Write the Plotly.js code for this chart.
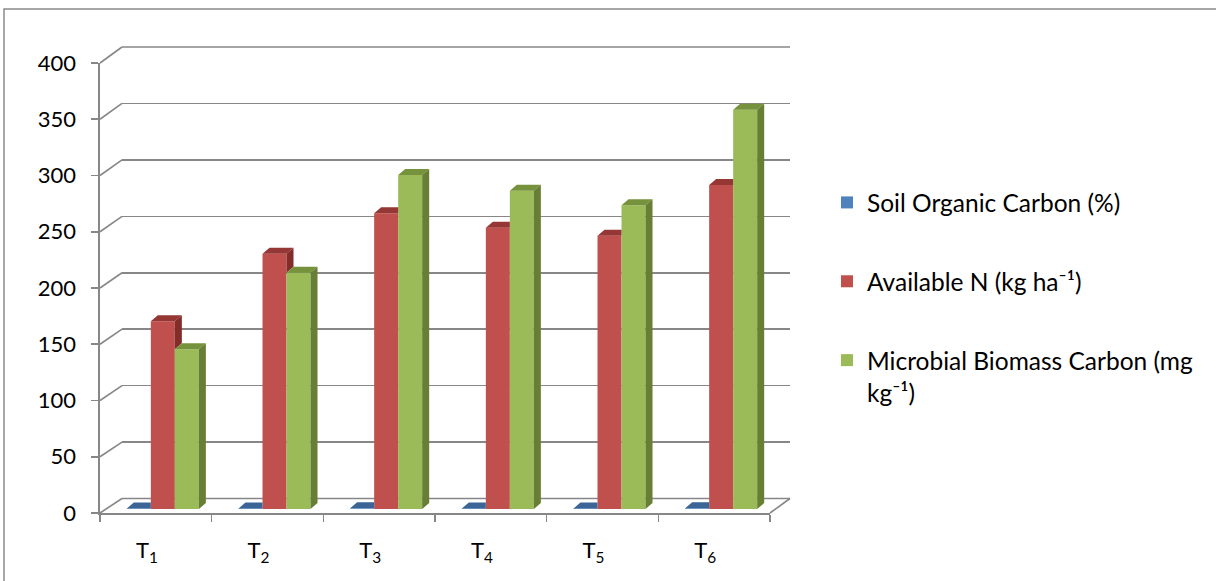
<!DOCTYPE html>
<html>
<head>
<meta charset="utf-8">
<script src="https://cdn.plot.ly/plotly-3.0.1.min.js"></script>
<style>html,body{margin:0;padding:0;background:#fff;}#chart{width:1216px;height:581px;}</style>
</head>
<body>
<div id="chart"></div>
<script>
// ---- data ----
const categories = ['T1', 'T2', 'T3', 'T4', 'T5', 'T6'];
const tickLabels = ['T<sub>1</sub>', 'T<sub>2</sub>', 'T<sub>3</sub>', 'T<sub>4</sub>', 'T<sub>5</sub>', 'T<sub>6</sub>'];
const soilOrganicCarbon = [0.45, 0.52, 0.58, 0.55, 0.53, 0.62];
const availableN = [167, 227, 263, 250, 243, 288];
const microbialBiomassC = [142, 210, 297, 283, 270, 355];
const seriesNames = ['Soil Organic Carbon (%)', 'Available N (kg ha\u207B\u00B9)', 'Microbial Biomass Carbon (mg<br>kg\u207B\u00B9)'];
const yTicks = [0, 50, 100, 150, 200, 250, 300, 350, 400];

// ---- geometry (pixels) ----
const W = 1216, H = 581;
const px = x => x / W;            // pixel -> paper x
const py = y => 1 - y / H;        // pixel -> paper y
const FRONT = {x0: 100, x1: 770, y0: 513, y1: 63};
const BACK  = {x0: 122, x1: 790, y0: 498.5, y1: 47};
const BARP  = {x0: 107, x1: 777, y0: 509, y1: 59};
const yMax = 400;

const colors = {
  blue: '#4F81BD', blueTop: '#3A6596',
  red: '#C0504D', redTop: '#953735', redSide: '#832D2B',
  green: '#9BBB59', greenTop: '#76923C', greenSide: '#667F35'
};

const idx = categories.map((c, i) => i);
const w = 0.215;                                    // bar width (category units)
const pxPerCat = (BARP.x1 - BARP.x0) / categories.length;
const pxPerUnit = (BARP.y0 - BARP.y1) / yMax;
const dX = 7 / pxPerCat;                            // depth offset in x units
const dY = 6 / pxPerUnit;                           // depth offset in y units
const labelShift = -0.08;                           // category label offset (category units)

function poly(list) {
  const xs = [], ys = [];
  list.forEach(p => {
    p.forEach(pt => { xs.push(pt[0]); ys.push(pt[1]); });
    xs.push(p[0][0]); ys.push(p[0][1]);
    xs.push(null); ys.push(null);
  });
  return {xs, ys};
}

const blueTopP = [], redTopP = [], redSideP = [], greenTopP = [], greenSideP = [];
idx.forEach(i => {
  const b = soilOrganicCarbon[i], r = availableN[i], g = microbialBiomassC[i];
  let L = i - 1.5 * w, R = i - 0.5 * w;
  blueTopP.push([[L, b], [R, b], [R, b + dY], [L + dX, b + dY]]);
  L = i - 0.5 * w; R = i + 0.5 * w;
  if (r > g) {
    redTopP.push([[L, r], [R, r], [R + dX, r + dY], [L + dX, r + dY]]);
    redSideP.push([[R, g], [R, r], [R + dX, r + dY], [R + dX, g + dY]]);
  } else {
    redTopP.push([[L, r], [R, r], [R, r + dY], [L + dX, r + dY]]);
  }
  L = i + 0.5 * w; R = i + 1.5 * w;
  greenTopP.push([[L, g], [R, g], [R + dX, g + dY], [L + dX, g + dY]]);
  greenSideP.push([[R, 0], [R, g], [R + dX, g + dY], [R + dX, dY]]);
});

function faceTrace(list, color) {
  const p = poly(list);
  return {type: 'scatter', mode: 'lines', x: p.xs, y: p.ys, xaxis: 'x3', yaxis: 'y3',
    fill: 'toself', fillcolor: color, line: {width: 0, color: color},
    showlegend: false, hoverinfo: 'skip'};
}

const traces = [
  {type: 'scatter', mode: 'markers', x: [0.5], y: [0], marker: {opacity: 0}, xaxis: 'x', yaxis: 'y', showlegend: false, hoverinfo: 'skip'},
  {type: 'scatter', mode: 'markers', x: [0], y: [0], marker: {opacity: 0}, xaxis: 'x2', yaxis: 'y2', showlegend: false, hoverinfo: 'skip'},
  {type: 'bar', name: seriesNames[0], x: idx, y: soilOrganicCarbon, width: w, offset: -1.5 * w,
    marker: {color: colors.blue}, xaxis: 'x3', yaxis: 'y3', legendgroup: 'a', hoverinfo: 'skip'},
  {type: 'bar', name: seriesNames[1], x: idx, y: availableN, width: w, offset: -0.5 * w,
    marker: {color: colors.red}, xaxis: 'x3', yaxis: 'y3', legendgroup: 'b', hoverinfo: 'skip'},
  {type: 'bar', name: seriesNames[2], x: idx, y: microbialBiomassC, width: w, offset: 0.5 * w,
    marker: {color: colors.green}, xaxis: 'x3', yaxis: 'y3', legendgroup: 'c', hoverinfo: 'skip'},
  faceTrace(blueTopP, colors.blueTop),
  faceTrace(redSideP, colors.redSide),
  faceTrace(redTopP, colors.redTop),
  faceTrace(greenTopP, colors.greenTop),
  faceTrace(greenSideP, colors.greenSide)
];

const gridCol = '#878787';
const shapes = [];
// outer chart border
shapes.push({type: 'rect', xref: 'paper', yref: 'paper', x0: px(4), x1: px(1230), y0: py(600), y1: py(9),
  line: {color: '#8a8a8a', width: 1.5}, layer: 'below'});
// left wall diagonals linking front axis ticks to back wall gridlines
yTicks.forEach(v => {
  const yf = FRONT.y0 - (FRONT.y0 - FRONT.y1) * v / yMax;
  const yb = BACK.y0 - (BACK.y0 - BACK.y1) * v / yMax;
  shapes.push({type: 'line', xref: 'paper', yref: 'paper', x0: px(FRONT.x0), y0: py(yf), x1: px(BACK.x0), y1: py(yb),
    line: {color: gridCol, width: 1.6}, layer: 'below'});
});
// back wall edge gridlines (0 = floor back edge, 400 = top)
[BACK.y0, BACK.y1].forEach(yb => {
  shapes.push({type: 'line', xref: 'paper', yref: 'paper', x0: px(BACK.x0), y0: py(yb), x1: px(BACK.x1), y1: py(yb),
    line: {color: gridCol, width: 1.6}, layer: 'below'});
});
// floor right edge
shapes.push({type: 'line', xref: 'paper', yref: 'paper', x0: px(FRONT.x1), y0: py(FRONT.y0), x1: px(BACK.x1), y1: py(BACK.y0),
  line: {color: gridCol, width: 1.6}, layer: 'below'});

const font = 'Lato, "Open Sans", sans-serif';
const layout = {
  width: W, height: H,
  margin: {l: 0, r: 0, t: 0, b: 0},
  paper_bgcolor: '#ffffff', plot_bgcolor: 'rgba(0,0,0,0)',
  font: {family: font, size: 22, color: '#000'},
  showlegend: true,
  hovermode: false,
  shapes: shapes,
  // back wall (gridlines)
  xaxis: {domain: [px(BACK.x0), px(BACK.x1)], range: [0, 1], visible: false, anchor: 'y', fixedrange: true},
  yaxis: {domain: [py(BACK.y0), py(BACK.y1)], range: [0, yMax], anchor: 'x', showgrid: true, gridcolor: gridCol, gridwidth: 1.6,
    dtick: 50, tick0: 0, showticklabels: false, ticks: '', zeroline: false, showline: false, fixedrange: true},
  // front plane (axis labels, ticks)
  xaxis2: {domain: [px(FRONT.x0), px(FRONT.x1)], range: [-0.5, 5.5], anchor: 'y2',
    tickmode: 'array', tickvals: idx.map(i => i + labelShift), ticktext: tickLabels, ticks: '', showgrid: false, zeroline: false,
    showline: true, linecolor: gridCol, linewidth: 1.6, ticklabelstandoff: 17,
    minor: {tick0: -0.5, dtick: 1, ticks: 'outside', ticklen: 7, tickcolor: gridCol, tickwidth: 1.6, showgrid: false},
    tickfont: {size: 22}, fixedrange: true},
  yaxis2: {domain: [py(FRONT.y0), py(FRONT.y1)], range: [0, yMax], anchor: 'x2',
    tickmode: 'linear', tick0: 0, dtick: 50, ticks: 'outside', ticklen: 7, tickcolor: gridCol, tickwidth: 1.6,
    showgrid: false, zeroline: false, showline: true, linecolor: gridCol, linewidth: 1.6, ticklabelstandoff: 11,
    tickfont: {size: 22}, fixedrange: true},
  // bar plane
  xaxis3: {domain: [px(BARP.x0), px(BARP.x1)], range: [-0.5, 5.5], anchor: 'y3', visible: false, fixedrange: true},
  yaxis3: {domain: [py(BARP.y0), py(BARP.y1)], range: [0, yMax], anchor: 'x3', visible: false, fixedrange: true},
  legend: {x: px(827), y: py(180), xanchor: 'left', yanchor: 'top', bgcolor: 'rgba(0,0,0,0)',
    font: {size: 24.5, family: font}, tracegroupgap: 44, valign: 'top', traceorder: 'grouped'}
};

Plotly.newPlot('chart', traces, layout, {displayModeBar: false, staticPlot: true});
</script>
</body>
</html>
